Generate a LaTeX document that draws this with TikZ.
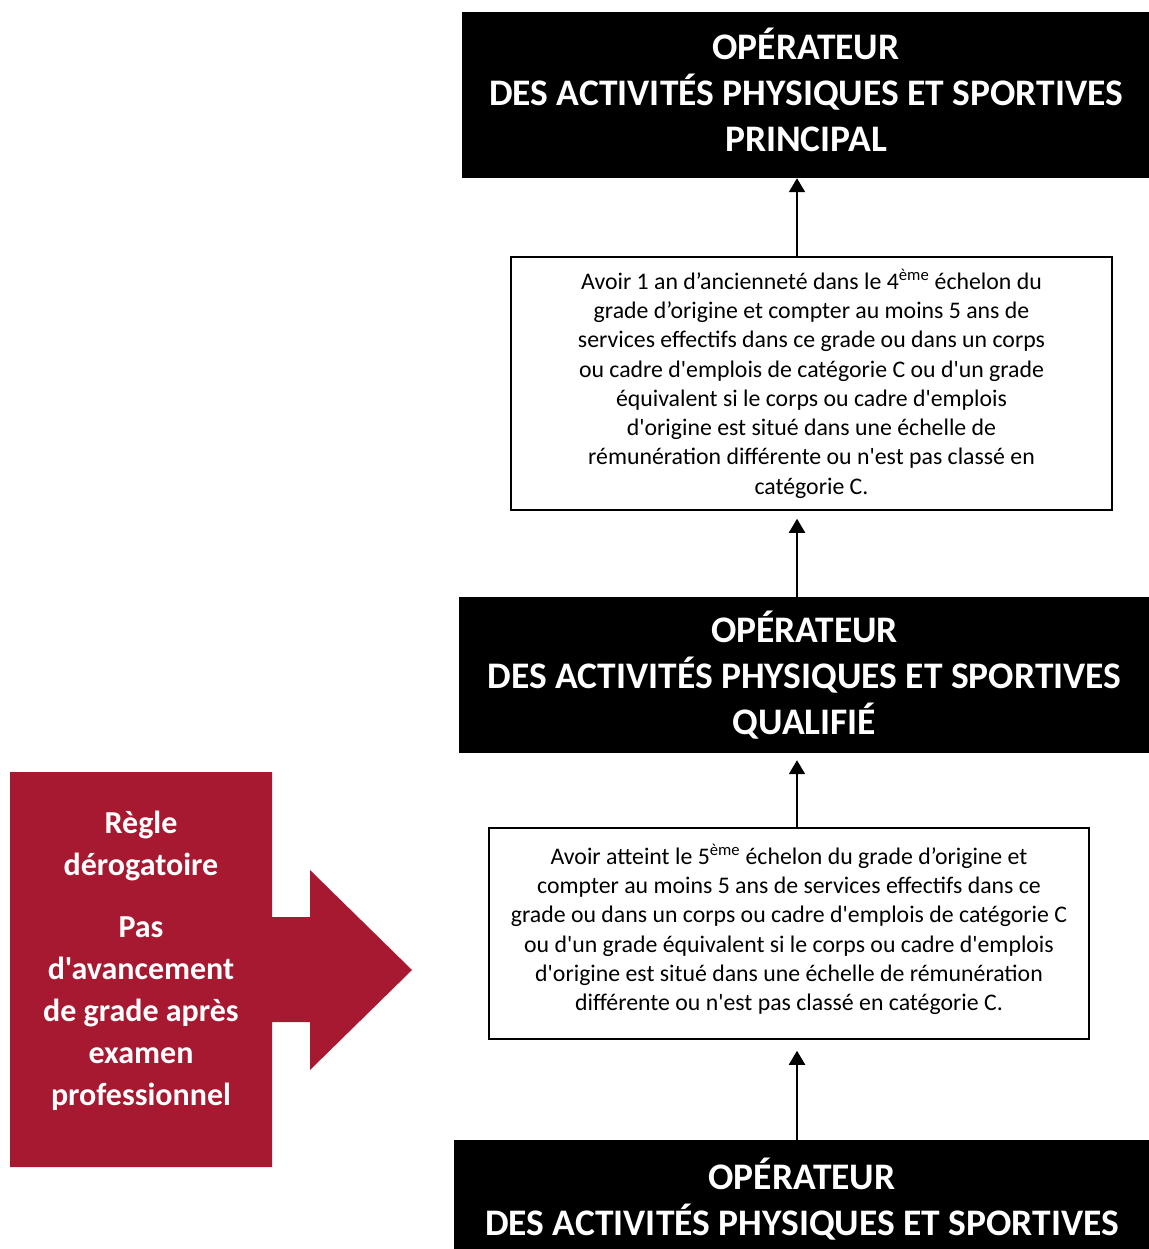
\documentclass[tikz,border=0pt]{standalone}
\usepackage{fontspec}
\setmainfont{Carlito}[Ligatures=TeXOff]
\usetikzlibrary{arrows.meta}
\definecolor{rouge}{RGB}{166,25,48}
\begin{document}
\begin{tikzpicture}[x=1pt, y=-1pt,
	titre/.style={fill=black, text=white, inner sep=0pt, align=center,
		font=\fontsize{37.5}{46}\selectfont\bfseries},
	condition/.style={draw=black, line width=1.5pt, fill=white, inner sep=0pt,
		align=center, font=\fontsize{23.8}{29.3}\selectfont},
	fleche/.style={line width=2pt, -{Triangle[length=14pt, width=16pt]}}]
	\useasboundingbox (0,0) rectangle (1148,1249);
	% Grades
	\node[titre, minimum width=688pt, minimum height=166pt] (principal) at (806,95)
		{OPÉRATEUR\\DES ACTIVITÉS PHYSIQUES ET SPORTIVES\\PRINCIPAL\\[-36pt]};
	\node[titre, minimum width=691pt, minimum height=156pt] (qualifie) at (804.5,675)
		{OPÉRATEUR\\DES ACTIVITÉS PHYSIQUES ET SPORTIVES\\QUALIFIÉ};
	\node[titre, minimum width=696pt, minimum height=118pt] (base) at (802,1199)
		{OPÉRATEUR\\DES ACTIVITÉS PHYSIQUES ET SPORTIVES};
	% Conditions
	\node[condition, minimum width=601pt, minimum height=253pt] (cond1) at (811.5,383.5)
		{Avoir 1 an d’ancienneté dans le 4\textsuperscript{ème} échelon du\\
		grade d’origine et compter au moins 5 ans de\\
		services effectifs dans ce grade ou dans un corps\\
		ou cadre d'emplois de catégorie C ou d'un grade\\
		équivalent si le corps ou cadre d'emplois\\
		d'origine est situé dans une échelle de\\
		rémunération différente ou n'est pas classé en\\
		catégorie C.};
	\node[condition, minimum width=600pt, minimum height=211pt] (cond2) at (789,933.5)
		{Avoir atteint le 5\textsuperscript{ème} échelon du grade d’origine et\\
		compter au moins 5 ans de services effectifs dans ce\\
		grade ou dans un corps ou cadre d'emplois de catégorie C\\
		ou d'un grade équivalent si le corps ou cadre d'emplois\\
		d'origine est situé dans une échelle de rémunération\\
		différente ou n'est pas classé en catégorie C.\\[-17pt]};
	% Fleches
	\coordinate (axe) at (797,0);
	\draw[fleche] (cond1.north -| axe) -- (principal.south -| axe);
	\draw[fleche, shorten >=8pt] (qualifie.north -| axe) -- (cond1.south -| axe);
	\draw[fleche, shorten >=7pt] (cond2.north -| axe) -- (qualifie.south -| axe);
	\draw[fleche, shorten >=11pt] (base.north -| axe) -- (cond2.south -| axe);
	% Regle derogatoire
	\fill[rouge] (10,772) -- (272,772) -- (272,917) -- (310,917) -- (310,870)
		-- (412,970) -- (310,1070) -- (310,1022) -- (272,1022) -- (272,1167)
		-- (10,1167) -- cycle;
	\node[text=white, align=center, font=\fontsize{32}{42}\selectfont\bfseries]
		(derogation) at (141,961)
		{Règle\\dérogatoire\\[20pt]Pas\\d'avancement\\de grade après\\examen\\professionnel};
\end{tikzpicture}
\end{document}
